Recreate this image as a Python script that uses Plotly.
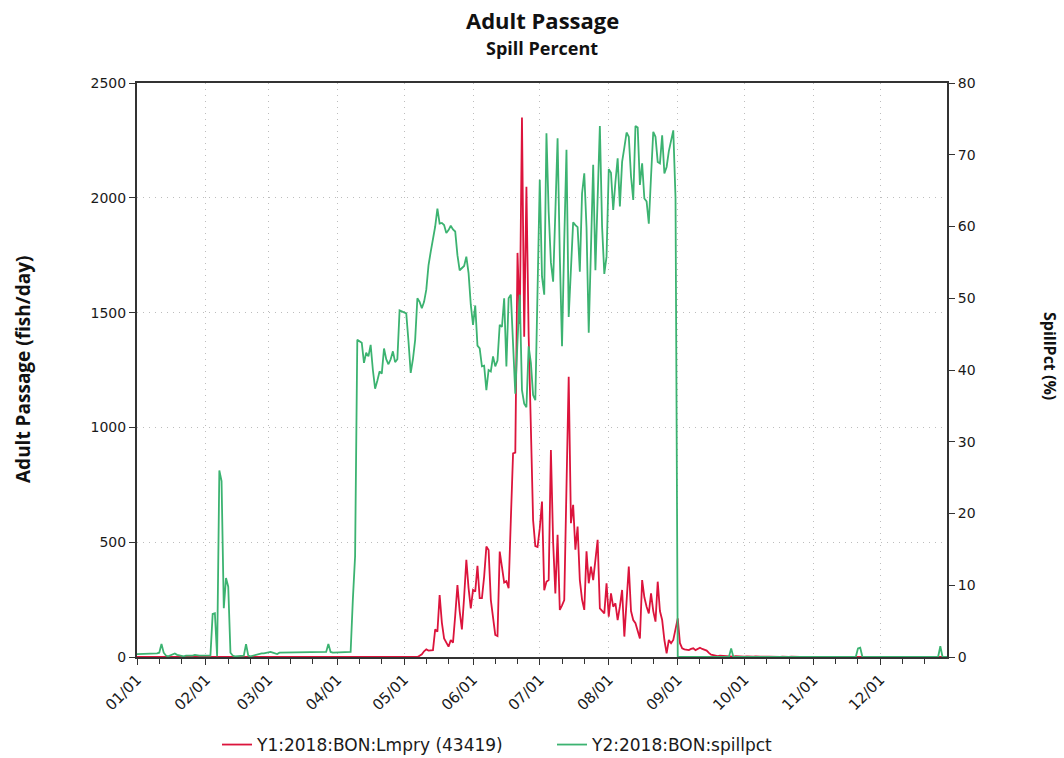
import pandas as pd
import plotly.graph_objects as go

# ---- Daily adult lamprey passage at Bonneville, 2018 (fish/day), by month ----
lmpry_jan = [0, 0, 0, 0, 0, 0, 0, 0, 0, 0, 0, 0, 0, 0, 0, 0, 0, 0, 0, 0, 0, 0, 0, 0, 0, 0, 0, 0, 0, 0, 0]
lmpry_feb = [0, 0, 0, 0, 0, 0, 0, 0, 0, 0, 0, 0, 0, 0, 0, 0, 0, 0, 0, 0, 0, 0, 0, 0, 0, 0, 0, 0]
lmpry_mar = [0, 0, 0, 0, 0, 0, 0, 0, 0, 0, 0, 0, 0, 0, 0, 0, 0, 0, 0, 0, 0, 0, 0, 0, 0, 0, 0, 0, 0, 0, 0]
lmpry_apr = [0, 0, 0, 0, 0, 0, 0, 0, 0, 0, 0, 0, 0, 0, 0, 0, 0, 0, 0, 0, 0, 0, 0, 0, 0, 0, 0, 0, 0, 0]
lmpry_may = [0, 0, 0, 0, 0, 0, 0, 5, 12, 25, 33, 28, 28, 30, 120, 110, 270, 150, 81, 62, 45, 74, 62,
             180, 313, 200, 120, 260, 423, 300, 212]
lmpry_jun = [292, 285, 397, 256, 256, 350, 481, 466, 249, 180, 96, 91, 459, 393, 324, 330, 300, 600,
             887, 890, 1760, 1450, 2350, 1395, 2048, 1400, 950, 596, 483, 479]
lmpry_jul = [560, 677, 291, 328, 335, 901, 500, 277, 532, 205, 225, 248, 740, 1221, 583, 663, 467, 568,
             335, 250, 205, 460, 321, 394, 335, 420, 510, 212, 200, 190, 321]
lmpry_aug = [176, 277, 219, 234, 161, 220, 292, 89, 250, 394, 200, 161, 147, 110, 81, 335, 260, 219,
             190, 277, 200, 154, 328, 200, 161, 74, 16, 74, 60, 74, 120]
lmpry_sep = [168, 60, 38, 33, 30, 30, 35, 38, 30, 36, 40, 35, 30, 28, 18, 10, 8, 5, 4, 6, 5, 3, 5, 4,
             3, 2, 4, 3, 2, 3]
lmpry_oct = [2, 3, 2, 1, 2, 3, 1, 2, 1, 0, 1, 2, 1, 0, 1, 0, 0, 1, 0, 0, 0, 1, 0, 0, 0, 0, 0, 0, 0, 1, 2]
lmpry_nov = [1, 0, 0, 0, 0, 0, 0, 0, 0, 0, 0, 0, 0, 0, 0, 0, 0, 0, 0, 0, 0, 0, 0, 0, 0, 0, 0, 0, 0, 0]
lmpry_dec = [0, 0, 0, 0, 0, 0, 0, 0, 0, 0, 0, 0, 0, 1, 0, 0, 0, 0, 0, 0, 0, 0, 0, 0, 0, 0, 0, 0, 0, 0, 0]

# ---- Daily spill percent at Bonneville, 2018 (%), by month ----
spill_jan = [0.4, 0.4, 0.5, 0.4, 0.4, 0.5, 0.4, 0.5, 0.4, 0.5, 0.6, 1.8, 0.6, 0.2, 0.1, 0.2, 0.3, 0.5,
             0.3, 0.2, 0.2, 0.1, 0.2, 0.2, 0.1, 0.2, 0.3, 0.2, 0.2, 0.2, 0.2]
spill_feb = [0.2, 0.3, 0.2, 6.0, 6.1, 0.1, 26.0, 24.5, 6.8, 11.0, 9.8, 0.6, 0.2, 0.1, 0.1, 0.2, 0.1,
             0.2, 1.8, 0.2, 0.1, 0.2, 0.3, 0.4, 0.5, 0.5, 0.5, 0.6]
spill_mar = [0.6, 0.7, 0.6, 0.5, 0.4, 0.6, 0.6, 0.7, 0.6, 0.6, 0.7, 0.7, 0.6, 0.6, 0.7, 0.6, 0.7, 0.7,
             0.6, 0.7, 0.6, 0.6, 0.7, 0.6, 0.7, 0.6, 0.7, 1.8, 0.7, 0.6, 0.6]
spill_apr = [0.6, 0.6, 0.7, 0.6, 0.6, 0.7, 0.7, 8.0, 14.0, 44.2, 44.0, 43.8, 41.0, 42.4, 41.9, 43.5,
             40.0, 37.4, 38.5, 39.8, 39.5, 43.0, 41.5, 40.8, 41.5, 42.6, 41.1, 41.5, 48.3, 48.2]
spill_may = [48.0, 47.9, 44.0, 39.6, 41.5, 44.2, 50.0, 49.5, 48.6, 49.5, 51.2, 54.6, 56.5, 58.1, 60.0,
             62.5, 60.4, 60.5, 60.2, 59.1, 59.5, 60.1, 59.6, 59.3, 56.0, 53.9, 54.2, 54.5, 55.8, 53.5, 49.1]
spill_jun = [46.3, 49.0, 43.4, 43.0, 40.5, 40.6, 37.2, 40.0, 39.8, 41.9, 40.5, 41.3, 46.3, 46.0, 50.0,
             40.5, 50.0, 50.5, 42.8, 36.7, 44.0, 50.5, 37.2, 35.3, 34.8, 43.3, 41.0, 36.5, 35.8, 52.0]
spill_jul = [66.5, 53.0, 50.5, 73.0, 62.0, 55.0, 52.3, 62.0, 72.3, 56.0, 43.3, 58.0, 70.7, 47.4, 55.0,
             60.6, 60.2, 59.9, 53.7, 64.6, 67.4, 59.9, 45.2, 57.0, 68.6, 53.9, 63.0, 74.0, 60.0, 53.4, 55.8]
spill_aug = [68.0, 67.5, 62.3, 66.2, 69.5, 62.8, 69.0, 71.0, 73.1, 72.5, 67.0, 63.7, 74.0, 73.8, 65.8,
             68.8, 63.9, 63.5, 60.4, 67.0, 73.2, 72.5, 69.0, 68.8, 72.7, 67.4, 68.3, 70.5, 72.0, 73.4, 64.0]
spill_sep = [0, 0, 0, 0, 0, 0, 0, 0, 0, 0, 0, 0, 0, 0, 0, 0, 0, 0, 0, 0, 0, 0, 0, 0, 1.2, 0, 0, 0, 0, 0]
spill_oct = [0, 0, 0, 0, 0, 0, 0, 0, 0, 0, 0, 0, 0, 0, 0, 0, 0, 0, 0, 0, 0, 0, 0, 0, 0, 0, 0, 0, 0, 0, 0]
spill_nov = [0, 0, 0, 0, 0, 0, 0, 0, 0, 0, 0, 0, 0, 0, 0, 0, 0, 0, 0, 0, 1.2, 1.3, 0, 0, 0, 0, 0, 0, 0, 0]
spill_dec = [0, 0, 0, 0, 0, 0, 0, 0, 0, 0, 0, 0, 0, 0, 0, 0, 0, 0, 0, 0, 0, 0, 0, 0, 0, 0, 0, 1.5, 0, 0, 0]

# ---- Axis labelling ----
month_labels = ["01/01", "02/01", "03/01", "04/01", "05/01", "06/01",
                "07/01", "08/01", "09/01", "10/01", "11/01", "12/01"]
month_starts = ["2018-01-01", "2018-02-01", "2018-03-01", "2018-04-01", "2018-05-01", "2018-06-01",
                "2018-07-01", "2018-08-01", "2018-09-01", "2018-10-01", "2018-11-01", "2018-12-01"]
minor_days = ["2018-%02d-%s" % (m, d) for m in range(1, 13) for d in ("11", "21")]

series_names = ["Y1:2018:BON:Lmpry (43419)", "Y2:2018:BON:spillpct"]

lmpry = (lmpry_jan + lmpry_feb + lmpry_mar + lmpry_apr + lmpry_may + lmpry_jun +
         lmpry_jul + lmpry_aug + lmpry_sep + lmpry_oct + lmpry_nov + lmpry_dec)
spill = (spill_jan + spill_feb + spill_mar + spill_apr + spill_may + spill_jun +
         spill_jul + spill_aug + spill_sep + spill_oct + spill_nov + spill_dec)
dates = pd.date_range("2018-01-01", "2018-12-31", freq="D")

RED = "#dc143c"
GREEN = "#3cb371"
AXIS = "#333333"
GRID = "#bdbdbd"
TEXT = "#1a1a1a"
X_TICK_FONT = dict(family="DejaVu Sans", size=15, color=TEXT)
Y_TICK_FONT = dict(family="DejaVu Sans", size=14, color=TEXT)
LEGEND_FONT = dict(family="DejaVu Sans", size=17, color=TEXT)

fig = go.Figure()
fig.add_trace(go.Scatter(x=dates, y=lmpry, mode="lines", name=series_names[0],
                         line=dict(color=RED, width=1.8), yaxis="y", legend="legend"))
fig.add_trace(go.Scatter(x=dates, y=spill, mode="lines", name=series_names[1],
                         line=dict(color=GREEN, width=1.8), yaxis="y2", legend="legend2"))

fig.update_layout(
    width=1064, height=758,
    margin=dict(l=137, r=117, t=83, b=101, autoexpand=False),
    paper_bgcolor="white", plot_bgcolor="white",
    showlegend=True,
    xaxis=dict(
        type="date", range=["2018-01-01", "2018-12-31"], automargin=False,
        tickmode="array", tickvals=month_starts, ticktext=month_labels,
        tickangle=-45, ticks="outside", ticklen=6, tickwidth=1, tickcolor=AXIS,
        tickfont=X_TICK_FONT,
        showline=True, linecolor=AXIS, linewidth=2, mirror=True,
        showgrid=True, gridcolor=GRID, gridwidth=1, griddash="1px,5px",
        minor=dict(tickmode="array", tickvals=minor_days, ticks="outside", ticklen=5,
                   tickcolor=AXIS, showgrid=False),
        zeroline=False,
    ),
    yaxis=dict(
        range=[0, 2500], tickmode="linear", tick0=0, dtick=500, automargin=False,
        ticks="outside", ticklen=6, tickcolor=AXIS, tickfont=Y_TICK_FONT,
        showline=True, linecolor=AXIS, linewidth=2,
        showgrid=True, gridcolor=GRID, gridwidth=1, griddash="1px,5px",
        zeroline=False,
    ),
    yaxis2=dict(
        range=[0, 80], tickmode="linear", tick0=0, dtick=10, automargin=False,
        overlaying="y", side="right",
        ticks="outside", ticklen=6, tickcolor=AXIS, tickfont=Y_TICK_FONT,
        showline=True, linecolor=AXIS, linewidth=2,
        showgrid=False, zeroline=False,
    ),
    legend=dict(orientation="h", xref="container", yref="container",
                x=217 / 1064, y=1 - 745 / 758, xanchor="left", yanchor="middle",
                font=LEGEND_FONT, bgcolor="rgba(0,0,0,0)"),
    legend2=dict(orientation="h", xref="container", yref="container",
                 x=552 / 1064, y=1 - 745 / 758, xanchor="left", yanchor="middle",
                 font=LEGEND_FONT, bgcolor="rgba(0,0,0,0)"),
    annotations=[
        dict(text="<b>Adult Passage</b>", xref="paper", yref="paper", x=0.5, y=1,
             xanchor="center", yanchor="middle", yshift=63, showarrow=False,
             font=dict(family="Open Sans", size=22, color="#111111")),
        dict(text="<b>Spill Percent</b>", xref="paper", yref="paper", x=0.5, y=1,
             xanchor="center", yanchor="middle", yshift=35, showarrow=False,
             font=dict(family="Open Sans", size=18, color="#111111")),
        dict(text="<b>Adult Passage (fish/day)</b>", xref="paper", yref="paper", x=0, y=0.5,
             xanchor="center", yanchor="middle", xshift=-114, textangle=-90, showarrow=False,
             font=dict(family="Open Sans", size=19, color="#111111")),
        dict(text="<b>SpillPct (%)</b>", xref="paper", yref="paper", x=1, y=0.5,
             xanchor="center", yanchor="middle", xshift=103, yshift=14, textangle=90, showarrow=False,
             font=dict(family="Open Sans", size=16, color="#111111")),
    ],
)

fig.write_html("out.html")
